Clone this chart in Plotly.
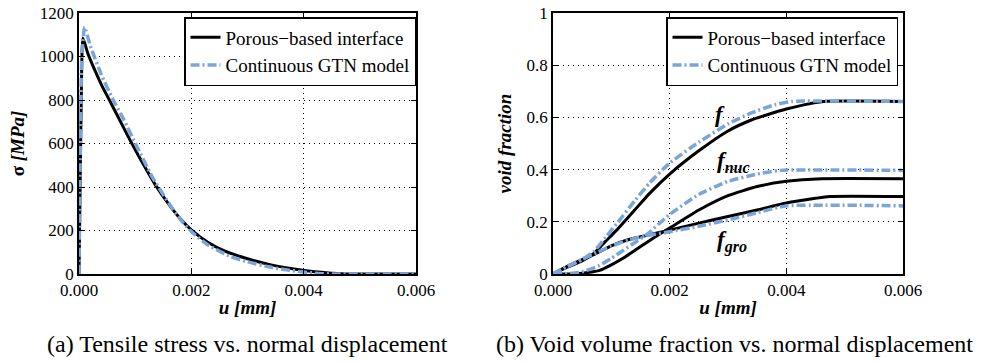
import plotly.graph_objects as go

# ---------------- data ----------------
# (a) tensile stress vs normal displacement
u_sig_por = [0, 0.00002, 0.00004, 0.00007, 0.00015, 0.00026, 0.0004, 0.00053, 0.0007, 0.00092,
             0.0011, 0.00136, 0.0016, 0.0018, 0.002, 0.0023, 0.0026, 0.003, 0.0034, 0.0038,
             0.0042, 0.0045, 0.0048, 0.006]
sig_por = [0, 400, 800, 1085, 1020, 950, 870, 805, 720, 610,
           525, 410, 320, 255, 203, 145, 105, 70, 43, 24,
           10, 4, 0, 0]

u_sig_gtn = [0, 0.00002, 0.00005, 0.0001, 0.0002, 0.0004, 0.0006, 0.0008, 0.001, 0.0013,
             0.0016, 0.0018, 0.002, 0.0023, 0.0027, 0.003, 0.0034, 0.0038, 0.0042, 0.0045,
             0.006]
sig_gtn = [0, 500, 1000, 1135, 1050, 915, 805, 708, 602, 448,
           325, 252, 195, 133, 80, 56, 32, 15, 4, 0,
           0]

# (b) void volume fractions vs normal displacement
u_f_por = [0, 0.00025, 0.0005, 0.0007, 0.0009, 0.0011, 0.0014, 0.00166, 0.002, 0.0025,
           0.003, 0.0034, 0.0037, 0.004, 0.0043, 0.00463, 0.006]
f_por = [0, 0.027, 0.05, 0.079, 0.125, 0.17, 0.245, 0.31, 0.383, 0.472,
         0.548, 0.59, 0.612, 0.632, 0.648, 0.661, 0.661]

u_f_gtn = [0, 0.00025, 0.0005, 0.0007, 0.0009, 0.0011, 0.0014, 0.00166, 0.002, 0.0025,
           0.003, 0.0034, 0.0038, 0.0041, 0.006]
f_gtn = [0, 0.028, 0.055, 0.086, 0.14, 0.195, 0.28, 0.35, 0.425, 0.505,
         0.575, 0.617, 0.648, 0.661, 0.661]

u_fnuc_por = [0, 0.0003, 0.0005, 0.0008, 0.001, 0.0012, 0.0014, 0.0016, 0.0019, 0.0021,
              0.0025, 0.003, 0.0035, 0.004, 0.00461, 0.006]
fnuc_por = [0, 0, 0.003, 0.014, 0.035, 0.06, 0.09, 0.12, 0.163, 0.19,
            0.245, 0.30, 0.335, 0.355, 0.365, 0.365]

u_fnuc_gtn = [0, 0.0003, 0.0005, 0.0008, 0.001, 0.0012, 0.0014, 0.0016, 0.002, 0.0025,
              0.003, 0.0035, 0.0039, 0.006]
fnuc_gtn = [0, 0.002, 0.008, 0.033, 0.06, 0.09, 0.12, 0.15, 0.228, 0.305,
            0.355, 0.383, 0.397, 0.397]

u_fgro_por = [0, 0.00025, 0.0005, 0.00075, 0.001, 0.0013, 0.0016, 0.002, 0.0025, 0.003,
              0.0035, 0.004, 0.0045, 0.00474, 0.006]
fgro_por = [0, 0.03, 0.055, 0.08, 0.108, 0.132, 0.148, 0.168, 0.195, 0.22,
            0.245, 0.272, 0.29, 0.297, 0.297]

u_fgro_gtn = [0, 0.00025, 0.0005, 0.00075, 0.001, 0.0013, 0.0016, 0.002, 0.0025, 0.003,
              0.0035, 0.0040, 0.006]
fgro_gtn = [0, 0.03, 0.057, 0.082, 0.107, 0.13, 0.147, 0.162, 0.183, 0.207,
            0.235, 0.261, 0.261]

x_ticks = [0, 0.002, 0.004, 0.006]
x_ticktext = ["0.000", "0.002", "0.004", "0.006"]
y1_ticks = [0, 200, 400, 600, 800, 1000, 1200]
y1_ticktext = ["0", "200", "400", "600", "800", "1000", "1200"]
y2_ticks = [0, 0.2, 0.4, 0.6, 0.8, 1.0]
y2_ticktext = ["0", "0.2", "0.4", "0.6", "0.8", "1"]

name_por = "Porous\u2212based interface"
name_gtn = "Continuous GTN model"
captions = ["(a) Tensile stress vs. normal displacement",
            "(b) Void volume fraction vs. normal displacement"]

# ---------------- styling ----------------
FONT = "Liberation Serif, Times New Roman, serif"
BLACK = "#000000"
BLUE = "#7aa5da"
W, H = 981, 363
por_line = dict(color=BLACK, width=3, shape="spline", smoothing=0.5)
gtn_line = dict(color=BLUE, width=3.5, dash="9px,3px,2px,3px", shape="spline", smoothing=0.5)

fig = go.Figure()

# left panel
fig.add_trace(go.Scatter(x=u_sig_por, y=sig_por, mode="lines", line=por_line, name=name_por,
                         xaxis="x", yaxis="y", legend="legend"))
fig.add_trace(go.Scatter(x=u_sig_gtn, y=sig_gtn, mode="lines", line=gtn_line, name=name_gtn,
                         xaxis="x", yaxis="y", legend="legend"))

# right panel: black first, blue on top
for i, (ux, vy) in enumerate([(u_f_por, f_por), (u_fnuc_por, fnuc_por), (u_fgro_por, fgro_por)]):
    fig.add_trace(go.Scatter(x=ux, y=vy, mode="lines", line=por_line, name=name_por,
                             xaxis="x2", yaxis="y2", legend="legend2", legendgroup="por2",
                             showlegend=(i == 0)))
for i, (ux, vy) in enumerate([(u_f_gtn, f_gtn), (u_fnuc_gtn, fnuc_gtn), (u_fgro_gtn, fgro_gtn)]):
    fig.add_trace(go.Scatter(x=ux, y=vy, mode="lines", line=gtn_line, name=name_gtn,
                             xaxis="x2", yaxis="y2", legend="legend2", legendgroup="gtn2",
                             showlegend=(i == 0)))

ydom = [1 - 274 / H, 1 - 13 / H]
axis_common = dict(showline=True, linecolor=BLACK, linewidth=1.5, mirror="ticks",
                   ticks="inside", ticklen=5, tickwidth=1, tickcolor=BLACK,
                   showgrid=True, gridcolor=BLACK, gridwidth=1, griddash="1px,4px",
                   zeroline=False, automargin=False,
                   tickfont=dict(family=FONT, size=17, color=BLACK))
title_font = dict(family=FONT, size=19, color=BLACK)

legend_common = dict(y=1 - 17 / H, xanchor="right", yanchor="top", itemwidth=30,
                     bgcolor="white", bordercolor=BLACK, borderwidth=1.5,
                     font=dict(family=FONT, size=19, color=BLACK), tracegroupgap=0)

fig.update_layout(
    width=W, height=H,
    margin=dict(l=0, r=0, t=0, b=0),
    paper_bgcolor="white", plot_bgcolor="white",
    font=dict(family=FONT, color=BLACK),
    xaxis=dict(axis_common, domain=[79 / W, 416 / W], range=[0, 0.006], anchor="y",
               tickvals=x_ticks, ticktext=x_ticktext,
               title=dict(text="<b><i>u [mm]</i></b>", font=title_font, standoff=2)),
    yaxis=dict(axis_common, domain=ydom, range=[0, 1200], anchor="x",
               tickvals=y1_ticks, ticktext=y1_ticktext,
               title=dict(text="<b>\u03c3 <i>[MPa]</i></b>", font=title_font, standoff=10)),
    xaxis2=dict(axis_common, domain=[553 / W, 903 / W], range=[0, 0.006], anchor="y2",
                tickvals=x_ticks, ticktext=x_ticktext,
                title=dict(text="<b><i>u [mm]</i></b>", font=title_font, standoff=2)),
    yaxis2=dict(axis_common, domain=ydom, range=[0, 1], anchor="x2",
                tickvals=y2_ticks, ticktext=y2_ticktext,
                title=dict(text="<b><i>void fraction</i></b>", font=title_font, standoff=10)),
    legend=dict(legend_common, x=416 / W),
    legend2=dict(legend_common, x=898 / W),
    showlegend=True,
)

# curve labels in panel (b)
lab_font = dict(family=FONT, size=23, color=BLACK)
fig.add_annotation(x=0.00286, y=0.61, xref="x2", yref="y2", text="<b><i>f</i></b>",
                   showarrow=False, font=lab_font)
fig.add_annotation(x=0.00309, y=0.43, xref="x2", yref="y2",
                   text="<b><i>f<sub>nuc</sub></i></b>", showarrow=False, font=lab_font)
fig.add_annotation(x=0.00306, y=0.125, xref="x2", yref="y2",
                   text="<b><i>f<sub>gro</sub></i></b>", showarrow=False, font=lab_font)

# sub-figure captions
cap_font = dict(family=FONT, size=24, color=BLACK)
fig.add_annotation(x=247 / W, y=1 - 344 / H, xref="paper", yref="paper", text=captions[0],
                   showarrow=False, font=cap_font, xanchor="center", yanchor="middle")
fig.add_annotation(x=734 / W, y=1 - 344 / H, xref="paper", yref="paper", text=captions[1],
                   showarrow=False, font=cap_font, xanchor="center", yanchor="middle")

fig.write_html("out.html")
